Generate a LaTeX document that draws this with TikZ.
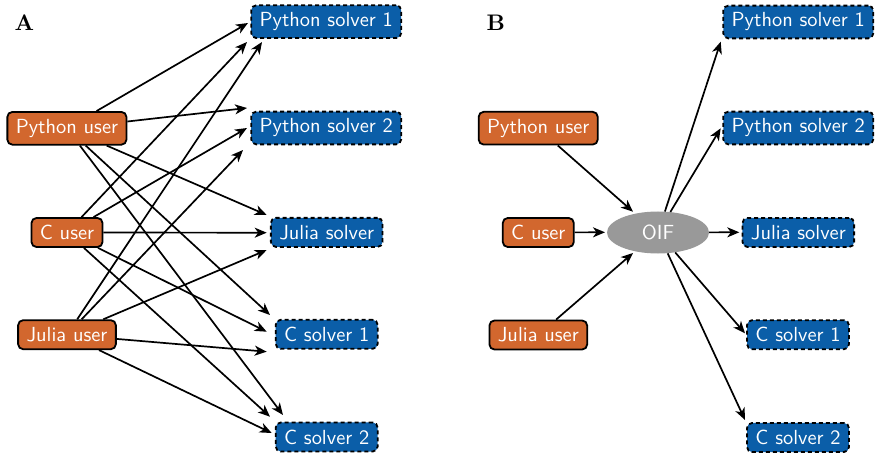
\documentclass[tikz,border=0pt]{standalone}
\usepackage{fontspec}
\newfontfamily\lmsten{lmsans10-regular.otf}
\newfontfamily\lmrbold{lmroman10-bold.otf}
\usetikzlibrary{arrows.meta,shapes.geometric}
\definecolor{userorange}{RGB}{210,103,46}
\definecolor{solverblue}{RGB}{11,94,168}
\definecolor{oifgray}{RGB}{153,153,153}
\begin{document}
\begin{tikzpicture}[x=1pt,y=-1pt,
  font=\lmsten\fontsize{20.4}{24}\selectfont,
  user/.style={rectangle, rounded corners=5pt, draw=black, fill=userorange, text=white, line width=1.8pt, inner xsep=8.4pt, inner ysep=7.2pt},
  solver/.style={rectangle, rounded corners=5pt, draw=black, fill=solverblue, text=white, line width=1.8pt, dash pattern=on 4pt off 3pt, inner xsep=8.4pt, inner ysep=7.2pt},
  hub/.style={ellipse, fill=oifgray, text=white, minimum width=102pt, minimum height=42pt, inner sep=0pt},
  conn/.style={-{Stealth[length=12pt,width=10pt,inset=3.5pt]}, line width=1.7pt},
  panel/.style={font=\lmrbold\fontsize{22.5}{26}\selectfont, inner sep=0pt}]
\useasboundingbox (0,0) rectangle (877,454);

% ---------- Panel A ----------
\node[panel] (labA) at (24.5,23) {A};
\node[user] (puA) at (66.9,128.3) {Python user};
\node[user] (cuA) at (67,232.5) {C user};
\node[user] (juA) at (67,334.7) {Julia user};
\node[solver] (ps1A) at (326.2,21.7) {Python solver 1};
\node[solver] (ps2A) at (326.2,128) {Python solver 2};
\node[solver] (jsA) at (326.7,232.4) {Julia solver};
\node[solver] (cs1A) at (326.7,334.3) {C solver 1};
\node[solver] (cs2A) at (326.7,437) {C solver 2};

% arrow tips (Python user)
\coordinate (pA1) at (248,23);
\coordinate (pA2) at (247,108);
\coordinate (pA3) at (266.7,215);
\coordinate (pA4) at (270,315);
\coordinate (pA5) at (283,415);
% arrow tips (C user)
\coordinate (cA1) at (247,42);
\coordinate (cA2) at (247,128);
\coordinate (cA3) at (266.7,232.7);
\coordinate (cA4) at (266.7,331.7);
\coordinate (cA5) at (270,416.7);
% arrow tips (Julia user)
\coordinate (jA1) at (262,42);
\coordinate (jA2) at (243,150);
\coordinate (jA3) at (266.7,250);
\coordinate (jA4) at (266.7,351.7);
\coordinate (jA5) at (271.7,433);

\foreach \t in {pA1,pA2,pA3,pA4,pA5} \draw[conn] (puA) -- (\t);
\foreach \t in {cA1,cA2,cA3,cA4,cA5} \draw[conn] (cuA) -- (\t);
\foreach \t in {jA1,jA2,jA3,jA4,jA5} \draw[conn] (juA) -- (\t);

% ---------- Panel B ----------
\node[panel] (labB) at (495.8,22.5) {B};
\node[user] (puB) at (538.2,128.2) {Python user};
\node[user] (cuB) at (538.3,232.5) {C user};
\node[user] (juB) at (538.3,335) {Julia user};
\node[hub] (oif) at (658,232.5) {OIF};
\node[solver] (ps1B) at (798.3,22) {Python solver 1};
\node[solver] (ps2B) at (798.3,128) {Python solver 2};
\node[solver] (jsB) at (798.3,232.5) {Julia solver};
\node[solver] (cs1B) at (798,334.7) {C solver 1};
\node[solver] (cs2B) at (798,437.5) {C solver 2};

\coordinate (iP) at (633,211.7);
\coordinate (iC) at (605,232.3);
\coordinate (iJ) at (633,253);
\coordinate (o1) at (720.7,41.7);
\coordinate (o2) at (720.7,128.3);
\coordinate (o3) at (739.3,232.3);
\coordinate (o4) at (745,333.3);
\coordinate (o5) at (745,420);

\draw[conn] (puB) -- (iP);
\draw[conn] (cuB) -- (iC);
\draw[conn] (juB) -- (iJ);
\foreach \t in {o1,o2,o3,o4,o5} \draw[conn] (oif) -- (\t);
\end{tikzpicture}
\end{document}
